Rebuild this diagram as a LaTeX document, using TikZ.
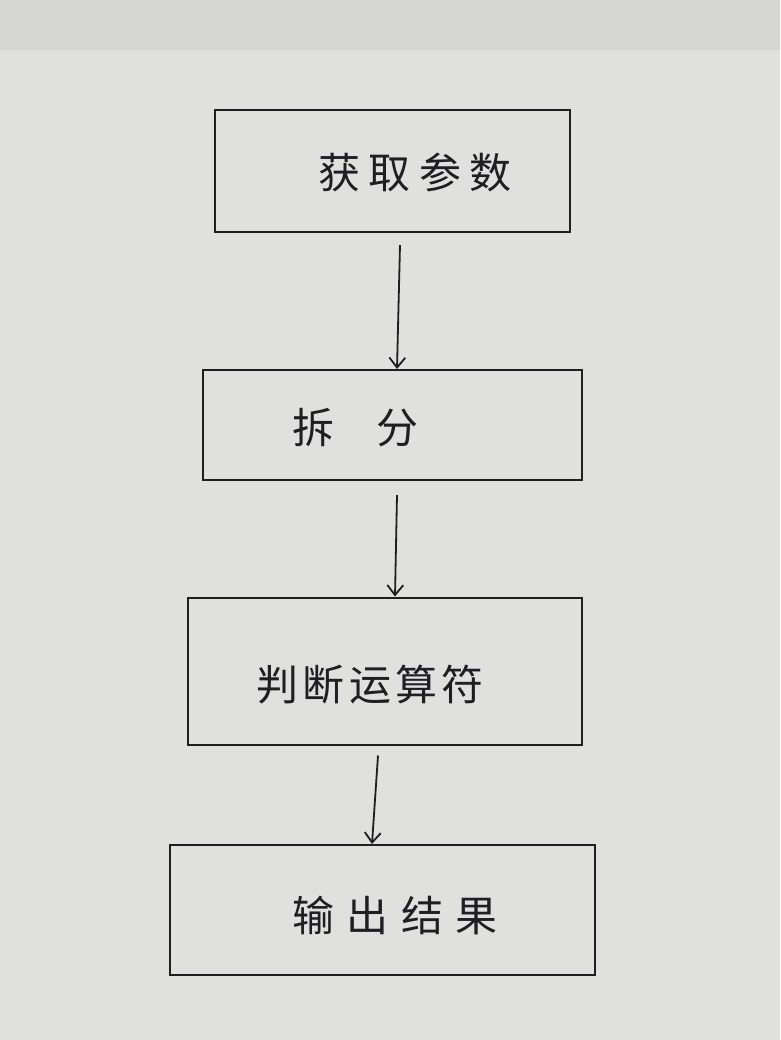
\documentclass[tikz,border=0pt]{standalone}
\usepackage{fontspec}
\usetikzlibrary{arrows.meta}
\newfontfamily\cjk{Noto Sans CJK SC}
\definecolor{paper}{RGB}{224,224,222}
\definecolor{ink}{RGB}{30,30,35}
\begin{document}
\begin{tikzpicture}[x=1pt,y=-1pt,
  box/.style={draw=ink,line width=2pt,minimum width=#1,inner sep=0pt},
  lbl/.style={font=\cjk\fontsize{42}{48}\selectfont,text=ink},
  arr/.style={draw=ink,line width=1.8pt,-{Straight Barb[length=10pt,width=16pt]}}]
\useasboundingbox (0,0) rectangle (780,1040);
\fill[paper] (0,0) rectangle (780,1040);
\fill[gray!40,opacity=0.5] (0,0) rectangle (780,50);
\node[box=355pt,minimum height=122pt] (b1) at (392,171) {};
\node[box=379pt,minimum height=110pt] (b2) at (392,425) {};
\node[box=394pt,minimum height=147pt] (b3) at (385,671) {};
\node[box=425pt,minimum height=130pt] (b4) at (382,910) {};
\node[lbl] (t1) at (415,172) {获\hspace{0.2em}取\hspace{0.2em}参\hspace{0.2em}数};
\node[lbl] (t2) at (355,428) {拆\hspace{1em}分};
\node[lbl] (t3) at (370,685) {判\hspace{0.1em}断\hspace{0.1em}运\hspace{0.1em}算\hspace{0.1em}符};
\node[lbl] (t4) at (395,915) {输\hspace{0.3em}出\hspace{0.3em}结\hspace{0.3em}果};
\draw[arr] (b1.south -| 400,0) ++(0,12) -- (b2.north -| 397,0);
\draw[arr] (b2.south -| 397,0) ++(0,14) -- (b3.north -| 395,0);
\draw[arr] (b3.south -| 378,0) ++(0,10) -- (b4.north -| 372,0);
\end{tikzpicture}
\end{document}
